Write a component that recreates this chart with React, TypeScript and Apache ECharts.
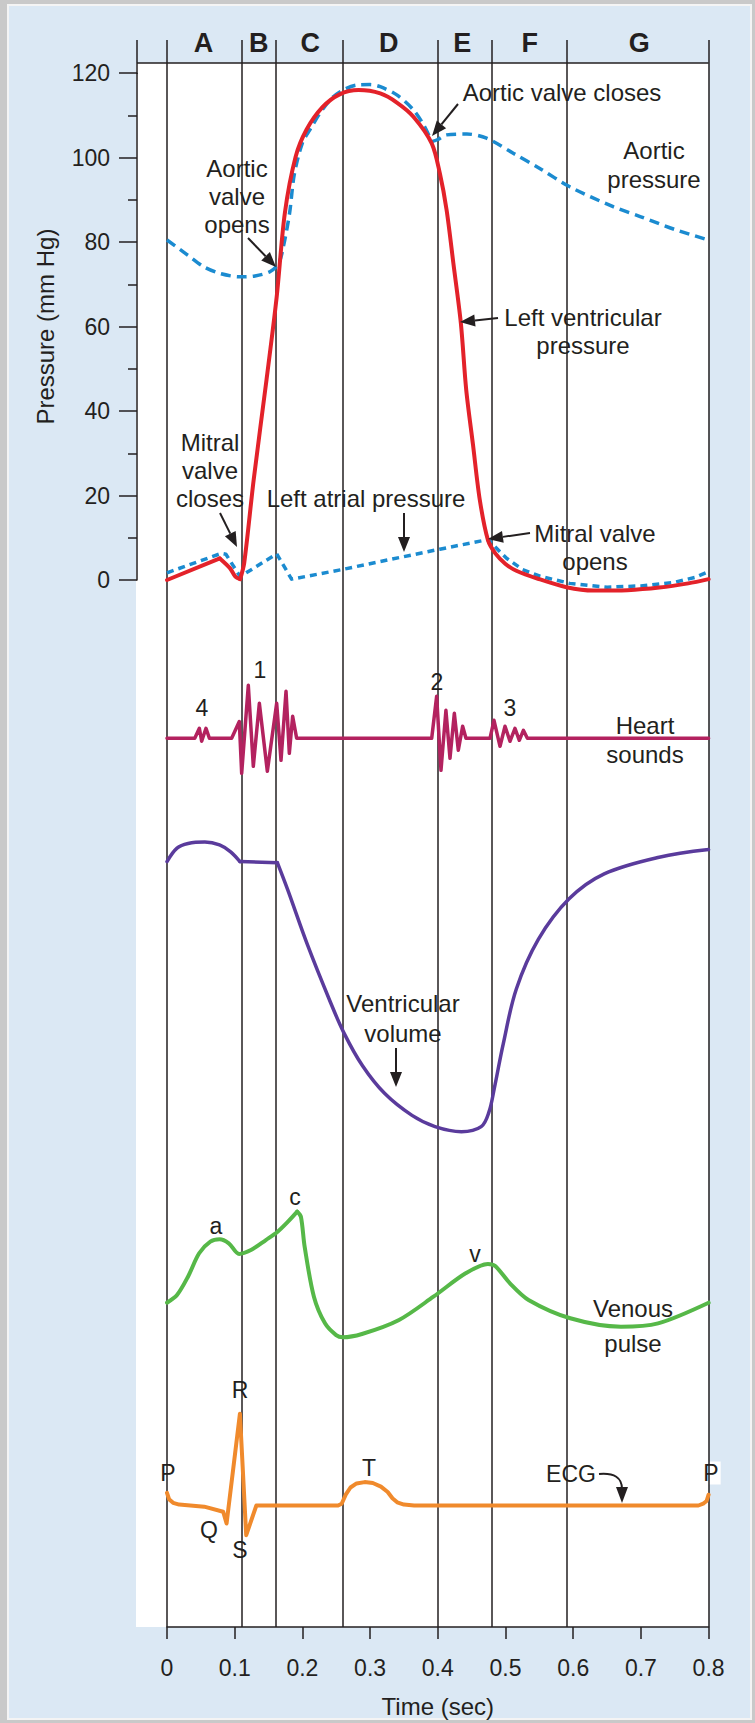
import React, { useEffect, useRef } from "react";
import * as echarts from "echarts";

// ---------- data ----------
const phaseBounds = [0, 0.108, 0.163, 0.26, 0.395, 0.477, 0.595, 0.8];
const phaseLabels = ["A", "B", "C", "D", "E", "F", "G"];
const timeTickLabels = ["0", "0.1", "0.2", "0.3", "0.4", "0.5", "0.6", "0.7", "0.8"];

// [time (s), pressure (mm Hg)]
const lvPressure = [
  [0, 0], [0.078, 5.1], [0.093, 2.8], [0.101, 0.8], [0.108, 0.2], [0.114, 4], [0.128, 23.7],
  [0.147, 47.4], [0.162, 67], [0.174, 86.8], [0.19, 100.2], [0.206, 106.6], [0.23, 112],
  [0.255, 115], [0.283, 116], [0.315, 115.2], [0.34, 113], [0.364, 109.7], [0.391, 103.4],
  [0.403, 96.3], [0.413, 87.6], [0.423, 75], [0.434, 60.9], [0.442, 45], [0.452, 32],
  [0.462, 19], [0.474, 9.5], [0.485, 6.3], [0.5, 3.8], [0.516, 2.2], [0.548, 0.3],
  [0.59, -1.7], [0.63, -2.5], [0.68, -2.4], [0.727, -1.8], [0.77, -0.8], [0.8, 0.2],
];
const aorticPressure = [
  [0, 80.5], [0.03, 77], [0.054, 74.2], [0.08, 72.5], [0.108, 71.8], [0.13, 72], [0.152, 73],
  [0.165, 75], [0.172, 79], [0.181, 86.8], [0.188, 96], [0.2, 103.5], [0.211, 106.6],
  [0.23, 111.5], [0.25, 115], [0.28, 117.2], [0.3, 117.3], [0.315, 116.8], [0.34, 114.8],
  [0.364, 111.3], [0.38, 107.5], [0.391, 103.8], [0.4, 104.3], [0.413, 105.4], [0.443, 105.6],
  [0.472, 104.6], [0.512, 101], [0.55, 97.5], [0.595, 93.1], [0.659, 88.4], [0.7, 86],
  [0.75, 83], [0.8, 80.5],
];
const atrialPressure = [
  [0, 1.7], [0.08, 6.3], [0.087, 6.1], [0.108, 0.8], [0.162, 6.2], [0.184, 0.2], [0.256, 2.4],
  [0.349, 5.5], [0.403, 7.3], [0.475, 9.6], [0.479, 8.8], [0.49, 7], [0.502, 5.1],
  [0.525, 2.5], [0.551, 0.9], [0.595, -0.8], [0.65, -1.7], [0.7, -1.4], [0.748, -0.6],
  [0.78, 0.6], [0.8, 2],
];
// [time, sound amplitude]
const heartSounds = [
  [0, 0], [0.041, 0], [0.0478, 10], [0.0512, -3], [0.0576, 10], [0.0626, 0],
  [0.0955, 0], [0.1068, 16.7], [0.1103, -35], [0.1201, 53], [0.1275, -28], [0.1364, 35],
  [0.1482, -33], [0.162, 35], [0.1684, -22], [0.1758, 47], [0.1807, -15], [0.1856, 22],
  [0.1915, 0], [0.391, 0], [0.3983, 42], [0.4047, -32], [0.412, 28], [0.418, -20],
  [0.4244, 25], [0.4303, -12], [0.4367, 12], [0.4416, 0], [0.4771, 0], [0.483, 18],
  [0.4919, -8], [0.4993, 12], [0.5066, -3], [0.514, 10], [0.5204, -2], [0.5264, 8],
  [0.5323, 0], [0.8, 0],
];
// [time, volume (mL)]
const ventricularVolume = [
  [0, 124.6], [0.0148, 128.3], [0.0312, 129.6], [0.056, 130], [0.0776, 129.2], [0.094, 127.3],
  [0.1077, 124.6], [0.163, 124.3], [0.1785, 116.7], [0.2077, 101.5], [0.2402, 86.3],
  [0.2613, 77.3], [0.2888, 68.2], [0.3213, 60.6], [0.3619, 54.5], [0.3959, 51.4], [0.4349, 50],
  [0.4641, 51.4], [0.4755, 55.4], [0.4836, 62.1], [0.4966, 74.2], [0.516, 89.4], [0.5485, 103.1],
  [0.5939, 114.3], [0.6458, 121.2], [0.727, 125.8], [0.8, 127.9],
];
// [time, venous pressure]
const venousPulse = [
  [0, 2.87], [0.0148, 3.46], [0.031, 4.87], [0.0475, 6.67], [0.064, 7.56], [0.0776, 7.75],
  [0.0913, 7.44], [0.1065, 6.62], [0.124, 6.92], [0.146, 7.69], [0.1634, 8.33], [0.1787, 9.1],
  [0.1923, 9.87], [0.1978, 9.48], [0.2033, 7.18], [0.217, 3.33], [0.2334, 1.28], [0.2498, 0.38],
  [0.2595, 0.21], [0.288, 0.46], [0.3427, 1.54], [0.3935, 3.33], [0.4411, 5.13], [0.474, 5.85],
  [0.4848, 5.69], [0.5066, 4.36], [0.534, 3.08], [0.5957, 1.67], [0.6706, 1.02], [0.7253, 1.28],
  [0.8, 2.87],
];
// [time, mV]
const ecg = [
  [0, 0.14], [0.003, 0.07], [0.009, 0.03], [0.018, 0.01], [0.055, -0.013], [0.083, -0.069],
  [0.088, -0.2], [0.1077, 1.02], [0.117, -0.33], [0.132, 0], [0.2527, 0], [0.258, 0.02],
  [0.264, 0.12], [0.271, 0.2], [0.28, 0.245], [0.292, 0.26], [0.304, 0.25], [0.316, 0.21],
  [0.326, 0.15], [0.333, 0.08], [0.34, 0.035], [0.35, 0.01], [0.365, 0], [0.785, 0],
  [0.792, 0.02], [0.797, 0.05], [0.8, 0.12],
];

// times where a curve has a sharp corner (smoothing is broken there)
const lvCorners = [0.078, 0.108];
const aorticCorners = [0.391];
const volumeCorners = [0.1077, 0.163];
const venousCorners = [0.1923];

// ---------- styles ----------
const FONT = '"Liberation Sans", Arial, Helvetica, sans-serif';
const INK = "#231f20";
const RED = "#e3222a";
const BLUE = "#1b8bd0";
const MAGENTA = "#b3225f";
const PURPLE = "#5a3b9c";
const GREEN = "#56b848";
const ORANGE = "#f08a2c";

function splitAt(data: number[][], cuts: number[]) {
  const segs: number[][][] = [];
  let cur: number[][] = [];
  for (const p of data) {
    cur.push(p);
    if (cuts.includes(p[0]) && cur.length > 1) {
      segs.push(cur);
      cur = [p];
    }
  }
  if (cur.length > 1) segs.push(cur);
  return segs;
}

function txt(text: string, x: number, y: number, o: any = {}) {
  const align = o.align || "center";
  return {
    type: "text",
    z: o.z ?? 3,
    x,
    y,
    style: {
      text,
      fill: INK,
      fontSize: o.size || 24,
      fontFamily: FONT,
      fontWeight: o.bold ? "bold" : "normal",
      align,
      textAlign: align,
      verticalAlign: "middle",
      textVerticalAlign: "middle",
      backgroundColor: o.bg === false ? "transparent" : "#ffffff",
      padding: o.bg === false ? 0 : [0, 2],
    },
  };
}
function block(lines: string[], x: number, y: number, lh: number, o: any = {}) {
  return lines.map((l, i) => txt(l, x, y + i * lh, o));
}
function arrow(x1: number, y1: number, x2: number, y2: number, head = 15, half = 6) {
  const dx = x2 - x1, dy = y2 - y1;
  const L = Math.hypot(dx, dy);
  const ux = dx / L, uy = dy / L;
  const bx = x2 - ux * head, by = y2 - uy * head;
  return [
    { type: "line", z: 6, shape: { x1, y1, x2: bx, y2: by }, style: { stroke: INK, lineWidth: 2 } },
    {
      type: "polygon", z: 6,
      shape: { points: [[x2, y2], [bx - uy * half, by + ux * half], [bx + uy * half, by - ux * half]] },
      style: { fill: INK },
    },
  ];
}

const PX_PER_S = 677;
const T0_PX = 167;
const YAXIS_PX = 137;
const AXIS_Y = 1627;

export default function App() {
  const ref = useRef<HTMLDivElement>(null);
  useEffect(() => {
    if (!ref.current) return;
    const chart = echarts.init(ref.current, undefined, { renderer: "svg" });
    const hidX = (gi: number, min = 0) => ({ gridIndex: gi, type: "value", min, max: 0.8, show: false });
    const hidY = (gi: number, min: number, max: number) => ({ gridIndex: gi, type: "value", min, max, show: false });
    const plotW = 0.8 * PX_PER_S;
    const line = (name: string, data: number[][], gi: number, color: string, width: number, extra: any = {}) => ({
      name, type: "line", xAxisIndex: gi, yAxisIndex: gi, data, showSymbol: false, symbol: "none",
      z: 5, clip: false, silent: true, lineStyle: { color, width, cap: "round", join: "round", ...(extra.lineStyle || {}) },
      smooth: extra.smooth ?? false, animation: false,
    });
    const segLines = (name: string, data: number[][], cuts: number[], gi: number, color: string, width: number, extra: any = {}) =>
      splitAt(data, cuts).map((seg) => line(name, seg, gi, color, width, extra));

    chart.setOption({
      animation: false,
      grid: [
        { left: YAXIS_PX, top: 73.2, width: plotW + (T0_PX - YAXIS_PX), height: 506.8 },
        { left: T0_PX, top: 678.3, width: plotW, height: 100 },
        { left: T0_PX, top: 842, width: plotW, height: 289.7 },
        { left: T0_PX, top: 1210, width: plotW, height: 130 },
        { left: T0_PX, top: 1406.5, width: plotW, height: 144 },
        { left: T0_PX, top: 40, width: plotW, height: AXIS_Y - 40 },
      ],
      xAxis: [
        hidX(0, -(T0_PX - YAXIS_PX) / PX_PER_S),
        hidX(1), hidX(2), hidX(3), hidX(4),
        {
          gridIndex: 5, type: "value", min: 0, max: 0.8, interval: 0.1, position: "bottom",
          axisLine: { onZero: false, lineStyle: { color: INK, width: 1.5 } },
          axisTick: { length: 12, lineStyle: { color: INK, width: 1.5 } },
          axisLabel: {
            fontSize: 23, color: INK, fontFamily: FONT, margin: 29,
            formatter: (v: number) => timeTickLabels[Math.round(v * 10)] ?? "",
          },
          splitLine: { show: false },
          name: "Time (sec)", nameLocation: "middle", nameGap: 67,
          nameTextStyle: { fontSize: 24, color: INK, fontFamily: FONT },
        },
      ],
      yAxis: [
        {
          gridIndex: 0, type: "value", min: 0, max: 120, interval: 20, position: "left",
          axisLine: { show: true, onZero: false, lineStyle: { color: INK, width: 1.5 } },
          axisTick: { show: true, length: 18, lineStyle: { color: INK, width: 1.5 } },
          minorTick: { show: true, splitNumber: 2, length: 9, lineStyle: { color: INK, width: 1.5 } },
          axisLabel: { fontSize: 23, color: INK, fontFamily: FONT, margin: 27 },
          splitLine: { show: false },
          minorSplitLine: { show: false },
          name: "Pressure (mm Hg)", nameLocation: "middle", nameGap: 80, nameRotate: 90,
          nameTextStyle: { fontSize: 24, color: INK, fontFamily: FONT },
        },
        hidY(1, -40, 60), hidY(2, 50, 130), hidY(3, 0, 10), hidY(4, -0.5, 1.1), hidY(5, 0, 1),
      ],
      series: [
        {
          type: "line", xAxisIndex: 5, yAxisIndex: 5, data: [[0, 0.5]], showSymbol: false, symbol: "none",
          lineStyle: { width: 0 }, z: 1, silent: true, animation: false,
          markLine: {
            silent: true, animation: false, symbol: ["none", "none"], label: { show: false },
            lineStyle: { color: INK, width: 1.5, type: "solid" },
            emphasis: { disabled: true },
            data: phaseBounds.map((t) => ({ xAxis: t })),
          },
        },
        ...segLines("Aortic pressure", aorticPressure, aorticCorners, 0, BLUE, 3.5, { smooth: 0.3, lineStyle: { type: [10, 6], cap: "butt" } }),
        line("Left atrial pressure", atrialPressure, 0, BLUE, 3.5, { lineStyle: { type: [7, 5], cap: "butt" } }),
        ...segLines("Left ventricular pressure", lvPressure, lvCorners, 0, RED, 4, { smooth: 0.3 }),
        line("Heart sounds", heartSounds, 1, MAGENTA, 3.5),
        ...segLines("Ventricular volume", ventricularVolume, volumeCorners, 2, PURPLE, 3.5, { smooth: 0.35 }),
        ...segLines("Venous pulse", venousPulse, venousCorners, 3, GREEN, 4, { smooth: 0.3 }),
        line("ECG", ecg, 4, ORANGE, 4),
      ],
    });

    // header letters centred in each phase
    const px = (t: number) => chart.convertToPixel({ xAxisIndex: 5 }, t) as number;
    const letters = phaseLabels.map((l, i) =>
      txt(l, (px(phaseBounds[i]) + px(phaseBounds[i + 1])) / 2, 43, { bold: true, size: 27, bg: false })
    );
    const x08 = px(0.8);

    const graphics: any[] = [
      { type: "rect", z: -2, shape: { x: 0, y: 0, width: 755, height: 1723 }, style: { fill: "#c9c9c9" } },
      { type: "rect", z: -2, shape: { x: 8, y: 5, width: 743, height: 1714 }, style: { fill: "#dbe8f4", stroke: "#f4f4f4", lineWidth: 2 } },
      { type: "rect", z: -2, shape: { x: 136, y: 63, width: x08 - 136, height: AXIS_Y - 63 }, style: { fill: "#ffffff" } },
      { type: "line", z: 2, shape: { x1: YAXIS_PX, y1: 63, x2: x08, y2: 63 }, style: { stroke: INK, lineWidth: 1.5 } },
      { type: "line", z: 2, shape: { x1: YAXIS_PX, y1: 40, x2: YAXIS_PX, y2: 74 }, style: { stroke: INK, lineWidth: 1.5 } },
      ...letters,
      // pressure annotations
      ...block(["Aortic valve closes"], 562, 92, 28),
      ...arrow(458, 104, 432, 136),
      ...block(["Aortic", "pressure"], 654, 150, 29),
      ...block(["Aortic", "valve", "opens"], 237, 168, 28),
      ...arrow(248, 238, 276, 267),
      ...block(["Left ventricular", "pressure"], 583, 317, 28),
      ...arrow(498, 318, 460, 322),
      ...block(["Mitral", "valve", "closes"], 210, 442, 28),
      ...arrow(220, 513, 237, 547),
      ...block(["Left atrial pressure"], 366, 498, 28),
      ...arrow(404, 513, 404, 552),
      ...block(["Mitral valve", "opens"], 595, 533, 28.5),
      ...arrow(530, 533, 488, 539),
      // heart sounds
      txt("4", 202, 708, { size: 23 }),
      txt("1", 260, 670, { size: 23 }),
      txt("2", 437, 682, { size: 23 }),
      txt("3", 510, 708, { size: 23 }),
      ...block(["Heart", "sounds"], 645, 725, 29, { bg: false }),
      // volume
      ...block(["Ventricular", "volume"], 403, 1003, 30),
      ...arrow(396, 1048, 396, 1087),
      // venous
      txt("a", 216, 1226, { size: 23 }),
      txt("c", 295, 1197, { size: 23 }),
      txt("v", 475, 1254, { size: 23 }),
      ...block(["Venous", "pulse"], 633, 1308, 35),
      // ECG
      txt("R", 240, 1390, { size: 23 }),
      txt("P", 168, 1473, { size: 23 }),
      txt("Q", 209, 1530, { size: 23 }),
      txt("S", 240, 1550, { size: 23 }),
      txt("T", 369, 1468, { size: 23 }),
      txt("ECG", 571, 1474, { size: 23 }),
      txt("P", 711, 1473, { size: 23 }),
      {
        type: "bezierCurve", z: 6,
        shape: { x1: 599, y1: 1474, x2: 622, y2: 1489, cpx1: 622, cpy1: 1472 },
        style: { stroke: INK, lineWidth: 2, fill: "none" },
      },
      {
        type: "polygon", z: 6,
        shape: { points: [[622, 1503], [616, 1487], [628, 1487]] },
        style: { fill: INK },
      },
    ];
    chart.setOption({ graphic: graphics });
    return () => chart.dispose();
  }, []);
  return (
    <div
      ref={ref}
      style={{ position: "absolute", left: 0, top: 0, width: 755, height: 1723 }}
    />
  );
}
